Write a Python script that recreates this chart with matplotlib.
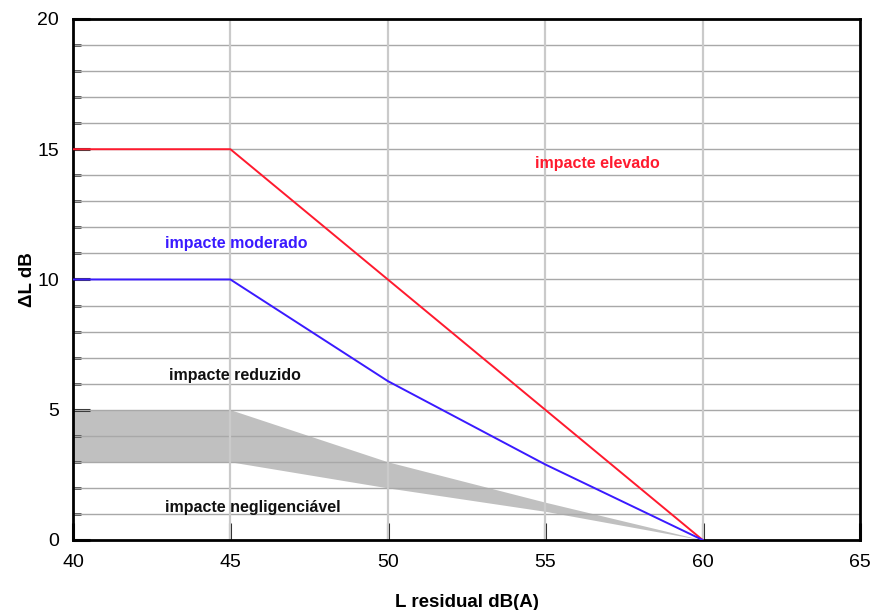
import matplotlib
matplotlib.use("Agg")
import matplotlib.pyplot as plt
from matplotlib.ticker import MultipleLocator

plt.rcParams["font.family"] = ["Liberation Sans", "DejaVu Sans"]

# L residual dB(A)
L_RES = [40, 45, 50, 55, 60]
# limit curves, delta L dB
ELEVADO = [15, 15, 10, 5, 0]
MODERADO = [10, 10, 6.1, 2.9, 0]
BAND_TOP = [5, 5, 3.0, 1.45, 0]
BAND_LOW = [3, 3, 2.0, 1.1, 0]

LABELS = ["impacte elevado", "impacte moderado", "impacte reduzido", "impacte negligenciável"]
LABEL_POS = [(56.65, 14.45), (45.2, 11.4), (45.15, 6.3), (45.7, 1.25)]
LABEL_COLORS = ["#ff1a2e", "#3a1aff", "#111111", "#111111"]

fig = plt.figure(figsize=(8.71, 6.10), dpi=100)
ax = fig.add_axes([0.0838, 0.1148, 0.9036, 0.8541])

ax.fill_between(L_RES, BAND_LOW, BAND_TOP, color="#c0c0c0", lw=0, zorder=1)
for y in range(1, 20):
    ax.axhline(y, color="#a8a8a8", lw=1.0, zorder=2)
for x in [45, 50, 55, 60]:
    ax.axvline(x, color="#cacaca", lw=1.6, zorder=2)

ax.plot(L_RES, ELEVADO, color="#ff1a2e", lw=1.4, zorder=3)
ax.plot(L_RES, MODERADO, color="#3a1aff", lw=1.4, zorder=3)

for txt, (x, y), c in zip(LABELS, LABEL_POS, LABEL_COLORS):
    ax.text(x, y, txt, color=c, fontsize=11.5, fontweight="bold",
            ha="center", va="center", zorder=4)

ax.set_xlim(40, 65)
ax.set_ylim(0, 20)
ax.xaxis.set_major_locator(MultipleLocator(5))
ax.yaxis.set_major_locator(MultipleLocator(5))
ax.yaxis.set_minor_locator(MultipleLocator(1))
ax.tick_params(axis="both", which="major", direction="in", length=12, width=2.2,
               labelsize=14, pad=10, color="#222222")
ax.tick_params(axis="y", which="minor", direction="in", length=6, width=2, color="#444444")
for sp in ax.spines.values():
    sp.set_linewidth(2)
ax.set_xlabel("L residual dB(A)", fontsize=13.5, fontweight="bold", labelpad=17)
ax.set_ylabel("ΔL dB", fontsize=13.5, fontweight="bold", labelpad=1)

fig.savefig("out.png", dpi=100)
